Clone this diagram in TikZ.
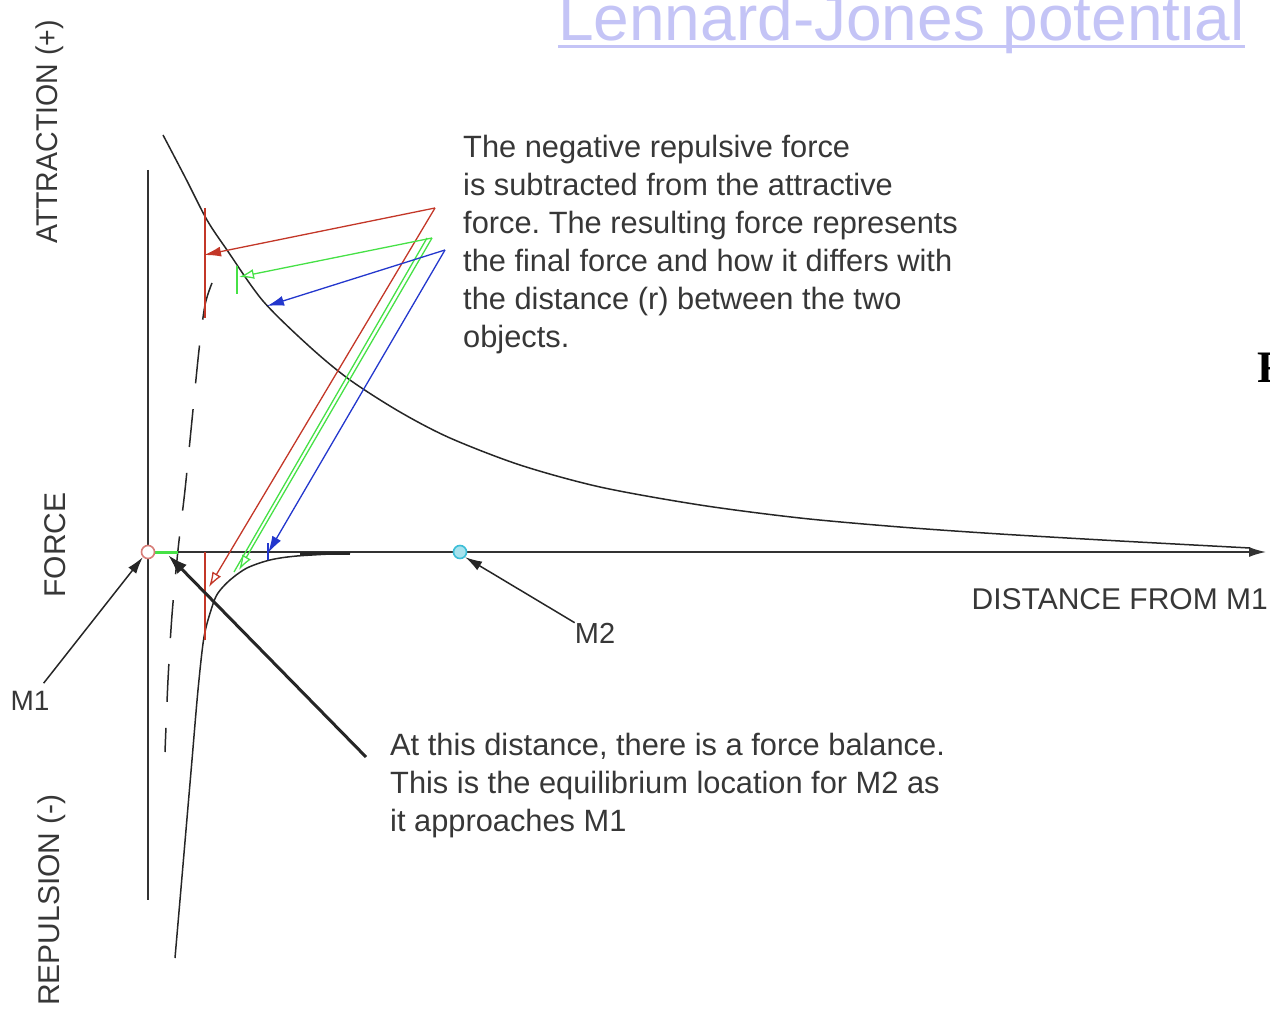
\documentclass[tikz,border=0pt]{standalone}
\usepackage{fontspec}
\setmainfont{Liberation Sans}
\newfontfamily\serifbold{Liberation Serif}
\usetikzlibrary{arrows.meta}
\frenchspacing

\definecolor{titlecol}{RGB}{196,196,246}
\definecolor{txtcol}{RGB}{55,55,55}
\definecolor{redline}{RGB}{195,55,40}
\definecolor{greenline}{RGB}{70,225,70}
\definecolor{blueline}{RGB}{35,55,205}
\definecolor{mcirc}{RGB}{215,125,120}
\definecolor{ncirc}{RGB}{60,190,215}

\tikzset{
  lbl/.style={font=\fontsize{30}{38}\selectfont, text=txtcol, inner sep=0pt},
  txt/.style={lbl, font=\fontsize{30.8}{38}\selectfont, align=left, anchor=north west},
  axlbl/.style={lbl, rotate=90},
  curve/.style={black!85, line width=1.5pt},
  mass/.style={circle, minimum size=13pt, inner sep=0pt, line width=1.6pt},
  force/.style={line width=1.3pt},
}

\begin{document}
\begin{tikzpicture}[x=1pt, y=-1pt, >={Latex[length=17pt,width=10pt]}]
  \useasboundingbox (0,0) rectangle (1270,1011);

  % title
  \node[font=\fontsize{64}{64}\selectfont, text=titlecol, inner sep=0pt, anchor=base west]
    (title) at (558,41) {Lennard-Jones potential};
  \draw[titlecol, line width=3pt] ([yshift=-6pt]title.base west) -- ([yshift=-6pt]title.base east);

  % axes
  \draw[black!80, line width=1.5pt] (148,170) -- (148,900);
  \draw[black!80, line width=1.5pt, ->] (148,552) -- (1266,552);

  % attractive force
  \draw[curve] plot[smooth] coordinates {(163,135) (185,177) (207,220) (227,250) (263,301)
    (310,347) (350,380) (400,412) (450,438) (520,465) (600,487) (700,505) (800,518)
    (900,527) (1000,534) (1120,541) (1250,548)};
  % repulsive force
  \draw[curve, dash pattern=on 38pt off 26pt] plot[smooth] coordinates {(212,283) (205,305)
    (199,350) (192,420) (185,490) (178,550) (172,615) (168,680) (165,752)};
  % resulting force
  \draw[curve] plot[smooth] coordinates {(175,958) (180,900) (186,830) (192,760) (198,690)
    (204,637) (212,607) (218,593) (230,580) (247,568) (270,560) (297,556) (350,553)};
  \draw[black!85, line width=3pt] (300,553) -- (350,553);

  % construction lines
  \coordinate (rtop) at (435,208);
  \coordinate (gtop) at (432,238);
  \coordinate (btop) at (445,250);
  \draw[redline, force] (205,208) -- (205,318);
  \draw[redline, force] (205,552) -- (205,640);
  \draw[redline, force, ->] (rtop) -- (204,255);
  \draw[redline, force, -{Latex[open,length=15pt,width=10pt]}] (rtop) -- (209,587);
  \draw[greenline, force, -{Latex[open,length=15pt,width=10pt]}] (gtop) -- (239,277);
  \draw[greenline, force, -{Latex[open,length=15pt,width=10pt]}] (gtop) -- (239,570);
  \draw[greenline, force] ([xshift=-5pt]gtop) -- (234,572);
  \draw[greenline, force] (237,266) -- (237,294);
  \draw[greenline, line width=3pt] (155,552) -- (178,552);
  \draw[blueline, force, ->] (btop) -- (267,306);
  \draw[blueline, force, ->] (btop) -- (268,553);
  \draw[blueline, force] (268,543) -- (268,560);

  % masses
  \node[mass, draw=mcirc, fill=white] (m1) at (148,552) {};
  \node[mass, draw=ncirc, fill=ncirc!45] (m2) at (460,552) {};

  % labels
  \node[axlbl, xscale=0.95] (attr) at (50,132) {ATTRACTION (+)};
  \node[axlbl] (frc) at (55,545) {FORCE};
  \node[axlbl] (rep) at (52,900) {REPULSION (-)};
  \node[lbl, anchor=base east] (dist) at (1268,609) {DISTANCE FROM M1};
  \node[lbl, font=\fontsize{28}{28}\selectfont] (m1lbl) at (30,701) {M1};
  \node[lbl, font=\fontsize{29}{29}\selectfont] (m2lbl) at (595,633) {M2};
  \node[txt] (expl) at (463,135)
    {The negative repulsive force\\is subtracted from the attractive\\force. The resulting force represents\\the final force and how it differs with\\the distance (r) between the two\\objects.};
  \node[txt] (balance) at (390,733)
    {At this distance, there is a force balance.\\This is the equilibrium location for M2 as\\it approaches M1};
  \node[font=\fontsize{45}{45}\selectfont\serifbold\bfseries, inner sep=0pt, anchor=base west]
    (frag) at (1257,382) {F};

  % pointers
  \coordinate (baltail) at (366,757);
  \coordinate (balhead) at (168,555);
  \draw[black!85, line width=1.5pt, ->] ([shift={(-6,-8)}]m1lbl.north east) -- (m1.south west);
  \draw[black!85, line width=1.5pt, ->] (m2lbl.north west) -- (m2.south east);
  \draw[black!85, line width=3pt, -{Latex[length=20pt,width=13pt]}] (baltail) -- (balhead);
\end{tikzpicture}
\end{document}
